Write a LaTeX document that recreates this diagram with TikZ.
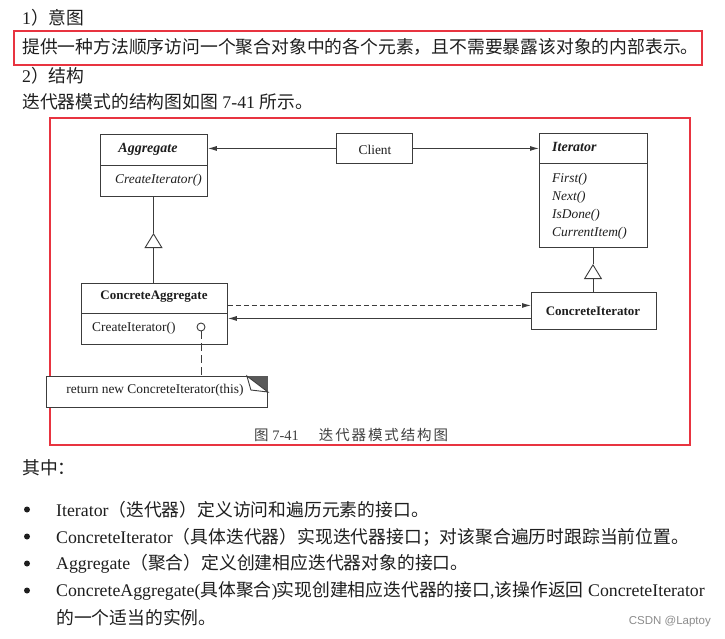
\documentclass[tikz,border=0pt]{standalone}
\usepackage{fontspec}
\setmainfont{Liberation Serif}
\newfontfamily\cjk{Noto Sans CJK SC}
\newfontfamily\cjkcap[LetterSpace=13]{Noto Sans CJK SC}
\newfontfamily\wmfont{Liberation Sans}
\usetikzlibrary{arrows.meta}
\definecolor{redb}{RGB}{232,52,64}
\definecolor{linec}{RGB}{60,60,60}
\definecolor{txt}{RGB}{30,30,30}
\tikzset{
  bodytext/.style={anchor=west, inner sep=0pt, text=txt, font=\fontsize{17.8}{20}\selectfont},
  redbox/.style={draw=redb, line width=1.8pt, inner sep=0pt, anchor=north west},
  umlbox/.style={draw=linec, line width=0.9pt, fill=white, inner sep=0pt, anchor=north west},
  umltext/.style={inner sep=0pt, text=txt, font=\fontsize{13.4}{15}\selectfont},
  umlbold/.style={inner sep=0pt, text=txt, font=\fontsize{13}{15}\selectfont\bfseries},
  umlbolditalic/.style={inner sep=0pt, text=txt, font=\fontsize{14}{16}\selectfont\bfseries\itshape},
  umlitalic/.style={inner sep=0pt, text=txt, font=\fontsize{13.4}{15}\selectfont\itshape},
  divider/.style={draw=linec, line width=0.9pt},
  assoc/.style={draw=linec, line width=0.9pt, -{Latex[length=9pt,width=5pt]}},
  dashassoc/.style={draw=linec, line width=0.9pt, dash pattern=on 5pt off 3pt, -{Latex[length=9pt,width=5pt]}},
  inh/.style={draw=linec, line width=0.9pt, -{Triangle[open,length=15pt,width=18pt]}},
  plainline/.style={draw=linec, line width=0.9pt},
  notedash/.style={draw=linec, line width=0.9pt, dash pattern=on 8pt off 4pt},
  bulletdot/.style={circle, fill=txt, inner sep=0pt, minimum size=6pt},
}
\begin{document}
\begin{tikzpicture}[x=1pt,y=-1pt]
\useasboundingbox[fill=white] (0,0) rectangle (725,638);

% header texts
\node[bodytext] (h1) at (22,18) {1{\cjk ）意图}};
\node[redbox, minimum width=688pt, minimum height=34pt] (intentbox) at (13,30) {};
\node[bodytext] (intent) at (22,47) {\cjk 提供一种方法顺序访问一个聚合对象中的各个元素，且不需要暴露该对象的内部表示。};
\node[bodytext] (h2) at (22,76) {2{\cjk ）结构}};
\node[bodytext] (intro) at (22,102) {{\cjk 迭代器模式的结构图如图} 7-41 {\cjk 所示。}};

% figure frame
\node[redbox, minimum width=640pt, minimum height=327pt] (figbox) at (49,117) {};

% UML boxes
\node[umlbox, minimum width=107pt, minimum height=62pt] (agg) at (100,134) {};
\node[umlbox, minimum width=76pt, minimum height=30pt] (client) at (336,133) {};
\node[umlbox, minimum width=108pt, minimum height=114pt] (iter) at (539,133) {};
\node[umlbox, minimum width=146pt, minimum height=61pt] (cagg) at (81,283) {};
\node[umlbox, minimum width=125pt, minimum height=37pt] (citer) at (531,292) {};
\node[umlbox, minimum width=221pt, minimum height=31pt] (note) at (46,376) {};

% dividers
\draw[divider] (100,165) -- (207,165);
\draw[divider] (539,163) -- (647,163);
\draw[divider] (81,313) -- (227,313);

% box texts
\node[umlbolditalic] (aggname) at (148,149) {Aggregate};
\node[umlitalic] (aggop) at (158.5,180) {CreateIterator()};
\node[umltext] (clientname) at (375,150) {Client};
\node[umlbolditalic, anchor=west] (itername) at (552,147) {Iterator};
\node[umlitalic, anchor=west] (iop1) at (552,179) {First()};
\node[umlitalic, anchor=west] (iop2) at (552,197) {Next()};
\node[umlitalic, anchor=west] (iop3) at (552,215) {IsDone()};
\node[umlitalic, anchor=west] (iop4) at (552,233) {CurrentItem()};
\node[umlbold] (caggname) at (154,297) {ConcreteAggregate};
\node[umltext, anchor=west] (caggop) at (92,328) {CreateIterator()};
\node[umlbold] (citername) at (593,311) {ConcreteIterator};
\node[umltext] (notetext) at (155,390) {return new ConcreteIterator(this)};

% note fold corner
\fill[linec!85] ([xshift=-21pt]note.north east) -- (note.north east) -- ([yshift=-16pt]note.north east) -- cycle;
\draw[plainline, fill=white] ([xshift=-21pt]note.north east) -- ([xshift=-17pt,yshift=-14pt]note.north east) -- ([yshift=-16pt]note.north east) -- cycle;

% connectors
\draw[assoc] (client.west) -- (client.west -| agg.east);
\draw[assoc] (client.east) -- (client.east -| iter.west);

\coordinate (apex1) at (153.5,233);
\draw[plainline] (apex1 |- agg.south) -- (apex1);
\draw[inh] (apex1 |- cagg.north) -- (apex1);

\coordinate (apex2) at (593,264);
\draw[plainline] (apex2 |- iter.south) -- (apex2);
\draw[inh] (apex2 |- citer.north) -- (apex2);

\draw[dashassoc] ([yshift=8.5pt]cagg.east) -- ([yshift=8.5pt]cagg.east -| citer.west);
\draw[assoc] ([yshift=-4.5pt]cagg.east -| citer.west) -- ([yshift=-4.5pt]cagg.east);

\node[circle, draw=linec, line width=0.9pt, fill=white, minimum size=8pt, inner sep=0pt] (dot) at (201,327) {};
\draw[notedash] (dot.south) -- (dot.south |- note.north);

% caption
\node[inner sep=0pt, anchor=west, text=txt!85, font=\fontsize{14.5}{17}\selectfont] (caption) at (254,435) {{\cjk 图} 7-41\hspace{20pt}{\cjkcap 迭代器模式结构图}};

% explanation
\node[bodytext] (qz) at (22,468) {\cjk 其中：};
\node[bulletdot] (b1) at (27,509.5) {};
\node[bodytext] (l1) at (56,510) {Iterator{\cjk （迭代器）定义访问和遍历元素的接口。}};
\node[bulletdot] (b2) at (27,536.5) {};
\node[bodytext] (l2) at (56,537) {ConcreteIterator{\cjk （具体迭代器）实现迭代器接口；对该聚合遍历时跟踪当前位置。}};
\node[bulletdot] (b3) at (27,563.5) {};
\node[bodytext] (l3) at (56,564) {Aggregate{\cjk （聚合）定义创建相应迭代器对象的接口。}};
\node[bulletdot] (b4) at (27,590.5) {};
\node[bodytext] (l4) at (56,591) {ConcreteAggregate({\cjk 具体聚合})\kern-1pt{\cjk 实现创建相应迭代器的接口},{\cjk 该操作返回} ConcreteIterator};
\node[bodytext] (l5) at (56,618) {\cjk 的一个适当的实例。};

\node[inner sep=0pt, anchor=east, text=black!45, font=\wmfont\fontsize{11.5}{13}\selectfont] (wm) at (711,622) {CSDN @Laptoy};
\end{tikzpicture}
\end{document}
